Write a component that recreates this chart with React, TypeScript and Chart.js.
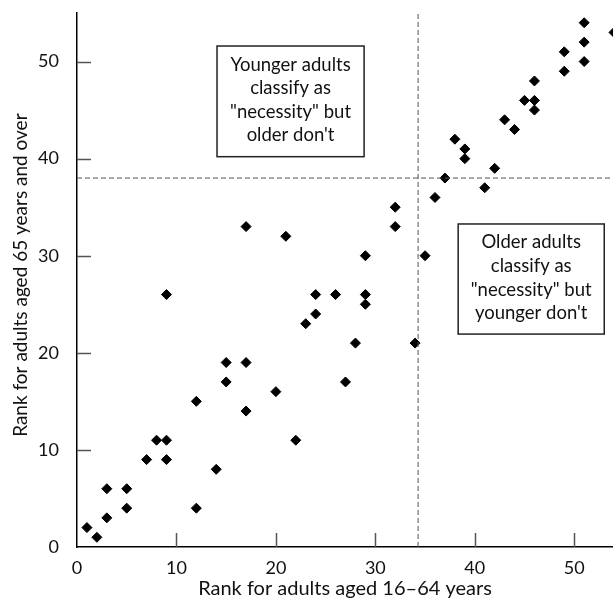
import React, { useEffect, useRef } from "react";
import { Chart, registerables } from "chart.js";

Chart.register(...registerables);

// Rank among adults aged 16–64 (x) and among adults aged 65+ (y), per item
const rankYounger = [
  1, 2, 3, 3, 5, 5, 7, 8, 9, 9, 9, 12, 12, 14, 15, 15, 17, 17, 17, 20, 21, 22,
  23, 24, 24, 26, 27, 28, 29, 29, 29, 32, 32, 34, 35, 36, 37, 38, 39, 39, 41,
  42, 43, 44, 45, 46, 46, 46, 49, 49, 51, 51, 51, 54,
];
const rankOlder = [
  2, 1, 3, 6, 6, 4, 9, 11, 11, 9, 26, 15, 4, 8, 19, 17, 19, 14, 33, 16, 32, 11,
  23, 26, 24, 26, 17, 21, 30, 26, 25, 35, 33, 21, 30, 36, 38, 42, 41, 40, 37,
  39, 44, 43, 46, 48, 46, 45, 51, 49, 54, 52, 50, 53,
];

const cutoffYounger = 34.3;
const cutoffOlder = 38;

const xTicks = [0, 10, 20, 30, 40, 50];
const yTicks = [0, 10, 20, 30, 40, 50];

const xTitle = "Rank for adults aged 16\u201364 years";
const yTitle = "Rank for adults aged 65 years and over";

const noteYoungerLines = ["Younger adults", "classify as", '"necessity" but', "older don't"];
const noteOlderLines = ["Older adults", "classify as", '"necessity" but', "younger don't"];

const FONT = "Lato, 'Open Sans', sans-serif";

const insideTicksPlugin = {
  id: "insideTicks",
  afterDatasetsDraw(chart: any) {
    const { ctx, scales } = chart;
    const xs = scales.x;
    const ys = scales.y;
    ctx.save();
    ctx.strokeStyle = "#555";
    ctx.lineWidth = 1.5;
    yTicks.forEach((v) => {
      if (v === 0) return;
      const py = Math.round(ys.getPixelForValue(v)) + 0.5;
      ctx.beginPath();
      ctx.moveTo(xs.left, py);
      ctx.lineTo(xs.left + 14, py);
      ctx.stroke();
    });
    xTicks.forEach((v) => {
      if (v === 0) return;
      const px = Math.round(xs.getPixelForValue(v)) + 0.5;
      ctx.beginPath();
      ctx.moveTo(px, ys.bottom);
      ctx.lineTo(px, ys.bottom - 14);
      ctx.stroke();
    });
    ctx.restore();
  },
};

function drawNote(chart: any, lines: string[], x0: number, x1: number, y0: number, y1: number) {
  const { ctx, scales } = chart;
  const left = scales.x.getPixelForValue(x0);
  const right = scales.x.getPixelForValue(x1);
  const top = scales.y.getPixelForValue(y0);
  const bottom = scales.y.getPixelForValue(y1);
  ctx.save();
  ctx.fillStyle = "#fff";
  ctx.fillRect(left, top, right - left, bottom - top);
  ctx.strokeStyle = "#222";
  ctx.lineWidth = 1.5;
  ctx.strokeRect(left, top, right - left, bottom - top);
  ctx.fillStyle = "#111";
  ctx.font = `18.5px ${FONT}`;
  ctx.textAlign = "center";
  ctx.textBaseline = "alphabetic";
  const cx = (left + right) / 2;
  lines.forEach((t, i) => {
    ctx.fillText(t, cx, top + 24.5 + i * 23.6);
  });
  ctx.restore();
}

const notesPlugin = {
  id: "notes",
  afterDatasetsDraw(chart: any) {
    drawNote(chart, noteYoungerLines, 14.08, 28.87, 51.6, 40.2);
    drawNote(chart, noteOlderLines, 38.33, 53.02, 33.27, 21.93);
  },
};

// y-axis title, centred on the rank 28 level as in the source figure
const yTitlePlugin = {
  id: "yTitle",
  afterDraw(chart: any) {
    const { ctx, scales } = chart;
    const cy = scales.y.getPixelForValue(28);
    ctx.save();
    ctx.translate(21, cy);
    ctx.rotate(-Math.PI / 2);
    ctx.fillStyle = "#111";
    ctx.font = `19px ${FONT}`;
    ctx.textAlign = "center";
    ctx.textBaseline = "middle";
    ctx.fillText(yTitle, 0, 0);
    ctx.restore();
  },
};

export default function App() {
  const ref = useRef<HTMLCanvasElement | null>(null);

  useEffect(() => {
    document.body.style.margin = "0";
    const canvas = ref.current;
    if (!canvas) return;
    const points = rankYounger.map((x, i) => ({ x, y: rankOlder[i] }));
    const chart = new Chart(canvas, {
      type: "scatter",
      data: {
        datasets: [
          {
            type: "line",
            data: [
              { x: cutoffYounger, y: 0 },
              { x: cutoffYounger, y: 55 },
            ],
            borderColor: "#555",
            borderWidth: 1,
            borderDash: [5, 3],
            pointRadius: 0,
            fill: false,
          } as any,
          {
            type: "line",
            data: [
              { x: 0, y: cutoffOlder },
              { x: 53.9, y: cutoffOlder },
            ],
            borderColor: "#555",
            borderWidth: 1,
            borderDash: [5, 3],
            pointRadius: 0,
            fill: false,
          } as any,
          {
            data: points,
            pointStyle: "rectRot",
            pointRadius: 5,
            pointHoverRadius: 5,
            backgroundColor: "#000",
            borderColor: "#000",
            borderWidth: 1,
            clip: false as any,
          },
        ],
      },
      options: {
        responsive: false,
        animation: false,
        events: [],
        layout: { autoPadding: false, padding: { top: 13, right: 0, left: 0, bottom: 0 } },
        plugins: {
          legend: { display: false },
          tooltip: { enabled: false },
        },
        scales: {
          x: {
            type: "linear",
            min: 0,
            max: 53.9,
            afterFit: (s: any) => {
              s.height = 52;
              s.paddingLeft = 0;
              s.paddingRight = 0;
            },
            afterBuildTicks: (s: any) => {
              s.ticks = xTicks.map((v) => ({ value: v }));
            },
            grid: { display: false },
            border: { display: true, color: "#000", width: 1.5 },
            ticks: {
              color: "#111",
              padding: 2,
              font: { family: FONT, size: 18 },
              maxRotation: 0,
            },
            title: {
              display: true,
              text: xTitle,
              color: "#111",
              font: { family: FONT, size: 20 },
              padding: { top: 0, bottom: -2 },
            },
          },
          y: {
            type: "linear",
            min: 0,
            max: 55,
            afterFit: (s: any) => {
              s.width = 77;
              s.paddingTop = 0;
              s.paddingBottom = 0;
            },
            afterBuildTicks: (s: any) => {
              s.ticks = yTicks.map((v) => ({ value: v }));
            },
            grid: { display: false },
            border: { display: true, color: "#000", width: 1.5 },
            ticks: {
              color: "#111",
              padding: 10,
              font: { family: FONT, size: 18 },
            },
            title: { display: false },
          },
        },
      },
      plugins: [insideTicksPlugin, notesPlugin, yTitlePlugin],
    });
    return () => chart.destroy();
  }, []);

  return <canvas ref={ref} width={613} height={599} style={{ display: "block" }} />;
}
